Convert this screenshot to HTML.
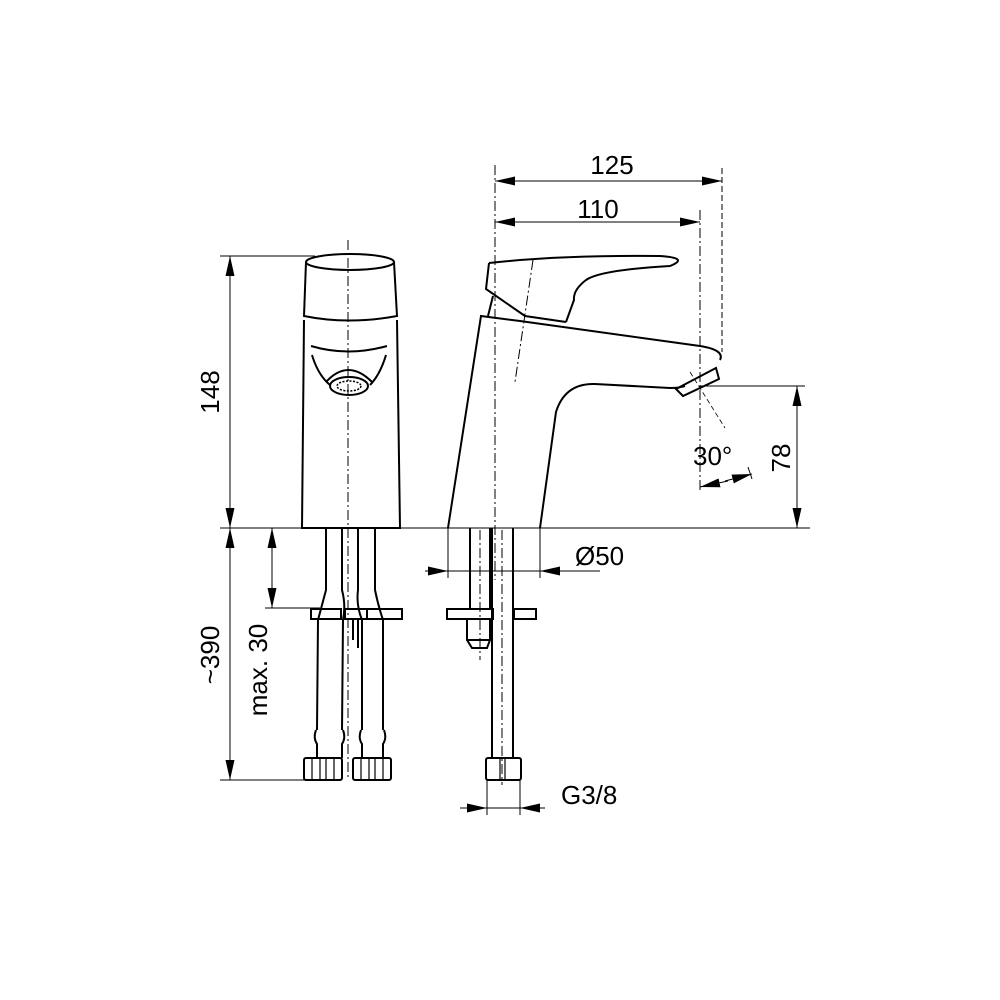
<!DOCTYPE html>
<html><head><meta charset="utf-8"><style>html,body{margin:0;padding:0;background:#fff}svg{display:block}</style></head>
<body>
<svg width="1000" height="1000" viewBox="0 0 1000 1000" xmlns="http://www.w3.org/2000/svg" font-family="Liberation Sans, Arial, sans-serif">
<defs>
<marker id="a" viewBox="0 0 20 9" refX="20" refY="4.5" markerWidth="20" markerHeight="9" markerUnits="userSpaceOnUse" orient="auto"><path d="M0,0 L20,4.5 L0,9 z" fill="#000"/></marker>
<marker id="b" viewBox="0 0 20 9" refX="0" refY="4.5" markerWidth="20" markerHeight="9" markerUnits="userSpaceOnUse" orient="auto"><path d="M20,0 L0,4.5 L20,9 z" fill="#000"/></marker>
</defs>
<g stroke="#000" fill="none" stroke-width="1">
<line x1="220" y1="256" x2="315" y2="256"/>
<line x1="220" y1="528" x2="810" y2="528"/>
<line x1="265" y1="608" x2="320" y2="608"/>
<line x1="220" y1="780" x2="305" y2="780"/>
<line x1="700" y1="386" x2="805" y2="386"/>
<line x1="230" y1="256" x2="230" y2="528" marker-start="url(#b)" marker-end="url(#a)"/>
<line x1="230" y1="528" x2="230" y2="780" marker-start="url(#b)" marker-end="url(#a)"/>
<line x1="272" y1="528" x2="272" y2="608" marker-start="url(#b)" marker-end="url(#a)"/>
<line x1="495" y1="181" x2="722" y2="181" marker-start="url(#b)" marker-end="url(#a)"/>
<line x1="495" y1="222" x2="700" y2="222" marker-start="url(#b)" marker-end="url(#a)"/>
<line x1="495" y1="165" x2="495" y2="580" stroke-dasharray="10,3,2,3"/>
<line x1="700" y1="210" x2="700" y2="490" stroke-dasharray="10,3,2,3"/>
<line x1="722" y1="168" x2="722" y2="352" stroke-dasharray="6,3"/>
<line x1="348" y1="240" x2="348" y2="780" stroke-dasharray="10,3,2,3"/>
<line x1="797" y1="386" x2="797" y2="528" marker-start="url(#b)" marker-end="url(#a)"/>
<line x1="690" y1="372" x2="725" y2="428" stroke-dasharray="5,3" stroke-width="0.8"/>
<line x1="700" y1="487" x2="728" y2="481" marker-start="url(#b)"/>
<line x1="725" y1="481" x2="752" y2="474" marker-end="url(#a)"/>
<line x1="748" y1="467" x2="752" y2="479"/>
<line x1="425" y1="571" x2="448" y2="571" marker-end="url(#a)"/>
<line x1="448" y1="571" x2="540" y2="571"/>
<line x1="600" y1="571" x2="540" y2="571" marker-end="url(#a)"/>
<line x1="448" y1="528" x2="448" y2="578"/>
<line x1="540" y1="528" x2="540" y2="578"/>
<line x1="460" y1="808" x2="487" y2="808" marker-end="url(#a)"/>
<line x1="487" y1="808" x2="520" y2="808"/>
<line x1="545" y1="808" x2="520" y2="808" marker-end="url(#a)"/>
<line x1="487" y1="780" x2="487" y2="815"/>
<line x1="520" y1="780" x2="520" y2="815"/>
</g>
<g stroke="#000" fill="none" stroke-width="2">
<ellipse cx="350" cy="262" rx="44" ry="8"/>
<path d="M306,262 L304,316 Q348,325 397,316 L394,262"/>
<path d="M304,320 L302,528 L400,528 L397,320"/>
<path d="M311,346 Q348,357 387,346"/>
<path d="M312,355 Q318,375 330,385 M386,355 Q380,375 370,385"/>
<path d="M326,382 Q348,358 372,382"/>
<ellipse cx="349" cy="386" rx="19" ry="9"/>
<ellipse cx="349" cy="386" rx="12" ry="5" stroke-width="1.5" stroke-dasharray="2,1.5"/>
<path d="M326,528 L326,590 Q322,605 318,620 L317,730 M342,528 L342,590 Q346,605 343,620 L342,730"/>
<path d="M358,528 L358,590 Q356,605 362,620 L362,730 M375,528 L375,590 Q378,605 383,620 L383,730"/>
<rect x="311" y="609" width="30" height="10"/>
<rect x="345" y="609" width="22" height="10"/>
<rect x="367" y="609" width="35" height="10"/>
<path d="M353,619 L353,640 M358,619 L358,648"/>
<path d="M316,730 Q313,738 317,744 L317,758 M343,730 Q346,738 342,744 L342,758"/>
<path d="M361,730 Q358,738 362,744 L362,758 M384,730 Q387,738 383,744 L383,758"/>
<rect x="304" y="758" width="38" height="22" rx="2"/>
<rect x="353" y="758" width="38" height="22" rx="2"/>
<path d="M312,759 V779 M320,759 V779 M326,759 V779 M334,759 V779 M361,759 V779 M369,759 V779 M375,759 V779 M383,759 V779" stroke-width="1.2"/>
<path d="M448,528 L481,316 L520,321 L700,346 Q725,350 720,360"/>
<path d="M540,528 L556,412 Q565,383 595,384 L670,388 Q680,388 685,386"/>
<path d="M676,389 L716,368 L719,379 L683,396 Z"/>
<path d="M489,263 Q560,255 660,256 Q690,258 670,266 Q600,270 586,280 Q573,290 574,300 L566,322"/>
<path d="M489,263 L486,289 L525,316 L566,322"/>
<path d="M493,296 L488,316"/>
<line x1="533" y1="260" x2="515" y2="382" stroke-width="1" stroke-dasharray="10,3,2,3"/>
<path d="M470,528 V609 M490,528 V609 M492,528 V758 M513,528 V758"/>
<line x1="480" y1="530" x2="480" y2="660" stroke-width="1" stroke-dasharray="10,3,2,3"/>
<line x1="502" y1="530" x2="502" y2="785" stroke-width="1" stroke-dasharray="10,3,2,3"/>
<rect x="447" y="609" width="46" height="10"/>
<rect x="514" y="609" width="22" height="10"/>
<path d="M467,619 V640 L472,648 H487 L490,640 V619 M467,640 H490"/>
<rect x="486" y="758" width="35" height="22" rx="2"/>
<path d="M500,759 V779 M505,759 V779" stroke-width="1.2"/>
</g>
<g font-size="26" fill="#000">
<text x="612" y="174" text-anchor="middle">125</text>
<text x="598" y="218" text-anchor="middle">110</text>
<text x="693" y="465">30°</text>
<text x="575" y="565">Ø50</text>
<text x="561" y="804">G3/8</text>
<text transform="translate(219,392) rotate(-90)" text-anchor="middle">148</text>
<text transform="translate(219,655) rotate(-90)" text-anchor="middle">~390</text>
<text transform="translate(267,670) rotate(-90)" text-anchor="middle">max. 30</text>
<text transform="translate(790,458) rotate(-90)" text-anchor="middle">78</text>
</g>
</svg>
</body></html>
